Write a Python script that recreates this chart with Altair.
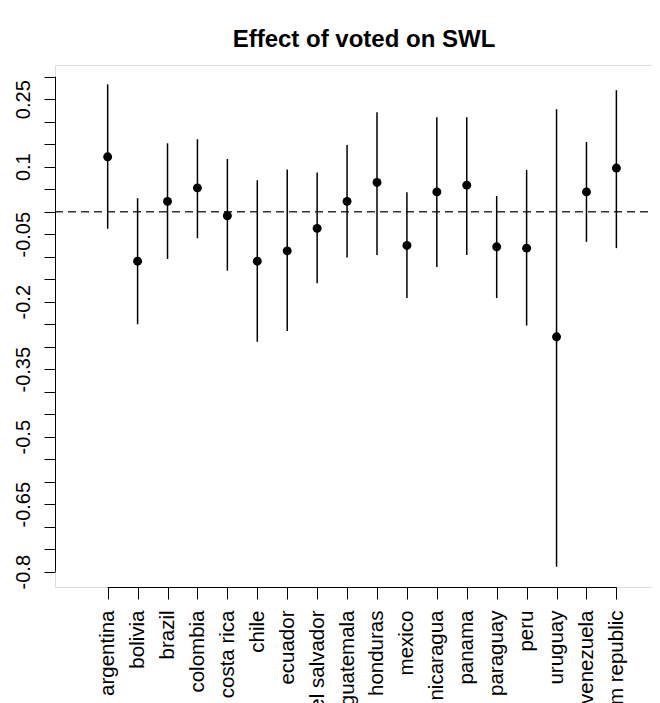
import json
import altair as alt
import pandas as pd

countries = ["argentina", "bolivia", "brazil", "colombia", "costa rica", "chile",
             "ecuador", "el salvador", "guatemala", "honduras", "mexico", "nicaragua",
             "panama", "paraguay", "peru", "uruguay", "venezuela", "dom republic"]
estimate = [0.122, -0.110, 0.023, 0.053, -0.009, -0.110, -0.087, -0.037, 0.023,
            0.065, -0.075, 0.044, 0.059, -0.078, -0.081, -0.278, 0.044, 0.097]
lower = [-0.038, -0.250, -0.105, -0.059, -0.131, -0.289, -0.265, -0.159, -0.102,
         -0.096, -0.192, -0.123, -0.096, -0.192, -0.253, -0.789, -0.067, -0.081]
upper = [0.283, 0.030, 0.152, 0.161, 0.117, 0.070, 0.094, 0.087, 0.148,
         0.221, 0.043, 0.210, 0.210, 0.035, 0.093, 0.2275, 0.155, 0.270]

y_tick_values = [-0.8, -0.75, -0.7, -0.65, -0.6, -0.55, -0.5, -0.45, -0.4, -0.35,
                 -0.3, -0.25, -0.2, -0.15, -0.1, -0.05, 0.0, 0.05, 0.1, 0.15,
                 0.2, 0.25, 0.3]
y_tick_labels = ["-0.8", "", "", "-0.65", "", "", "-0.5", "", "", "-0.35",
                 "", "", "-0.2", "", "", "-0.05", "", "", "0.1", "", "",
                 "0.25", ""]
x_positions = list(range(1, len(countries) + 1))
title_text = "Effect of voted on SWL"

df = pd.DataFrame({"idx": x_positions, "country": countries,
                   "est": estimate, "lo": lower, "hi": upper})
one = pd.DataFrame({"k": [0]})

W, H = 597, 522
FONT = "Liberation Sans"

xscale = alt.Scale(domain=[-0.76, 19.19], nice=False, zero=False)
yscale = alt.Scale(domain=[-0.834, 0.326], nice=False, zero=False)

xaxis = alt.Axis(values=x_positions, title=None, domain=False, grid=False,
                 labelExpr=f"{json.dumps(countries)}[round(datum.value) - 1]",
                 labelAngle=-90, labelAlign="right", labelBaseline="middle",
                 labelPadding=11, tickSize=12, tickColor="black", tickWidth=1,
                 labelFont=FONT, labelFontSize=20.5, labelColor="black",
                 labelOverlap=False, labelBound=False, labelFlush=False)
yaxis = alt.Axis(values=y_tick_values, title=None, domain=False, grid=False,
                 labelExpr=f"{json.dumps(y_tick_labels)}[round((datum.value + 0.8) / 0.05)]",
                 labelAngle=-90, labelAlign="center", labelBaseline="bottom",
                 labelPadding=11, tickSize=11, tickColor="black", tickWidth=1,
                 labelFont=FONT, labelFontSize=20, labelColor="black",
                 labelOverlap=False, labelBound=False, labelFlush=False)

base = alt.Chart(df)

bars = base.mark_rule(color="black", strokeWidth=1.5).encode(
    x=alt.X("idx:Q", scale=xscale, axis=xaxis),
    y=alt.Y("lo:Q", scale=yscale, axis=yaxis),
    y2="hi:Q",
)

points = base.mark_point(filled=True, shape="circle", size=80, color="black",
                         opacity=1).encode(
    x=alt.X("idx:Q", scale=xscale, axis=xaxis),
    y=alt.Y("est:Q", scale=yscale, axis=yaxis),
)

zero_line = alt.Chart(one).mark_rule(color="#333333", strokeWidth=1.6,
                                     strokeDash=[8, 5]).encode(
    y=alt.YDatum(0, type="quantitative", scale=yscale, axis=yaxis),
    x=alt.value(0),
    x2=alt.value(W),
)

yaxis_line = alt.Chart(one).mark_rule(color="black", strokeWidth=1).encode(
    x=alt.value(0.5),
    y=alt.YDatum(y_tick_values[0], type="quantitative", scale=yscale, axis=yaxis),
    y2=alt.Y2Datum(y_tick_values[-1]),
)

xaxis_line = alt.Chart(one).mark_rule(color="black", strokeWidth=1).encode(
    y=alt.value(H + 0.5),
    x=alt.XDatum(x_positions[0], type="quantitative", scale=xscale, axis=xaxis),
    x2=alt.X2Datum(x_positions[-1]),
)

title = alt.Chart(pd.DataFrame({"t": [title_text]})).mark_text(
    font=FONT, fontSize=24, fontWeight="bold", color="black",
    align="center", baseline="middle",
).encode(text="t:N", x=alt.value(309), y=alt.value(-25))

chart = alt.layer(zero_line, bars, points, yaxis_line, xaxis_line, title).properties(
    width=W, height=H,
    padding={"left": 47, "top": 57, "right": 0, "bottom": 116},
    autosize=alt.AutoSizeParams(type="none"),
).configure_view(stroke=None).configure(background="white")

chart.save("out.html", embed_options={"renderer": "svg", "actions": False})
